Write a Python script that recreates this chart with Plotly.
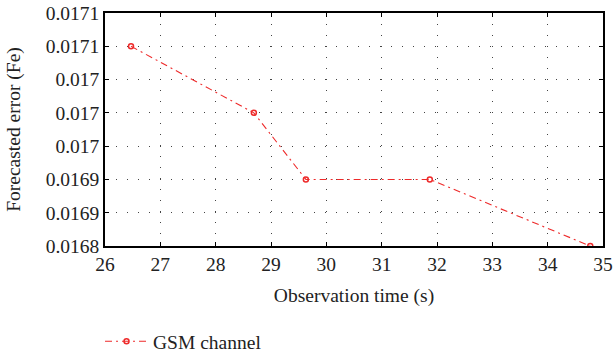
import plotly.graph_objects as go

obs_time = [26.47, 28.69, 29.63, 31.87, 34.77]
forecast_err = [0.01708, 0.01700, 0.01692, 0.01692, 0.01684]
x_ticks = [26, 27, 28, 29, 30, 31, 32, 33, 34, 35]
y_ticks = [0.01684, 0.01688, 0.01692, 0.01696, 0.01700, 0.01704, 0.01708, 0.01712]
y_tick_text = ["0.0168", "0.0169", "0.0169", "0.017", "0.017", "0.017", "0.0171", "0.0171"]

FONT = "Liberation Serif, Times New Roman, serif"
RED = "#ee2a2a"
TXT = "#222222"
FS = 19.5

fig = go.Figure()
fig.add_trace(go.Scatter(
    x=obs_time, y=forecast_err, mode="lines+markers", name="GSM channel",
    line=dict(color=RED, width=1.1, dash="7px,4px,2px,4px"),
    marker=dict(symbol="circle-open", size=5, color=RED, line=dict(width=1.5, color=RED)),
))

axis_common = dict(
    showline=True, linecolor="black", linewidth=1.5, mirror="ticks",
    ticks="inside", ticklen=4, tickcolor="black", tickwidth=1,
    showgrid=True, gridcolor="#444444", gridwidth=1, griddash="1px,10px",
    zeroline=False, automargin=False,
    tickfont=dict(family=FONT, size=FS, color=TXT),
)

fig.update_xaxes(range=[26, 35], tickvals=x_ticks, ticktext=[str(v) for v in x_ticks],
                 title=dict(text="Observation time (s)", font=dict(family=FONT, size=FS, color=TXT), standoff=14),
                 **axis_common)
fig.update_yaxes(range=[0.01684, 0.01712], tickvals=y_ticks, ticktext=y_tick_text,
                 title=dict(text="Forecasted error (Fe)", font=dict(family=FONT, size=FS, color=TXT), standoff=20),
                 **axis_common)

fig.update_layout(
    width=613, height=353,
    margin=dict(l=105, r=10, t=13, b=107, autoexpand=False),
    plot_bgcolor="white", paper_bgcolor="white",
    showlegend=True,
    legend=dict(x=-0.01, y=-0.41, xanchor="left", yanchor="middle", itemwidth=43,
                font=dict(family=FONT, size=FS, color=TXT), bgcolor="rgba(0,0,0,0)"),
)

fig.write_html("out.html")
